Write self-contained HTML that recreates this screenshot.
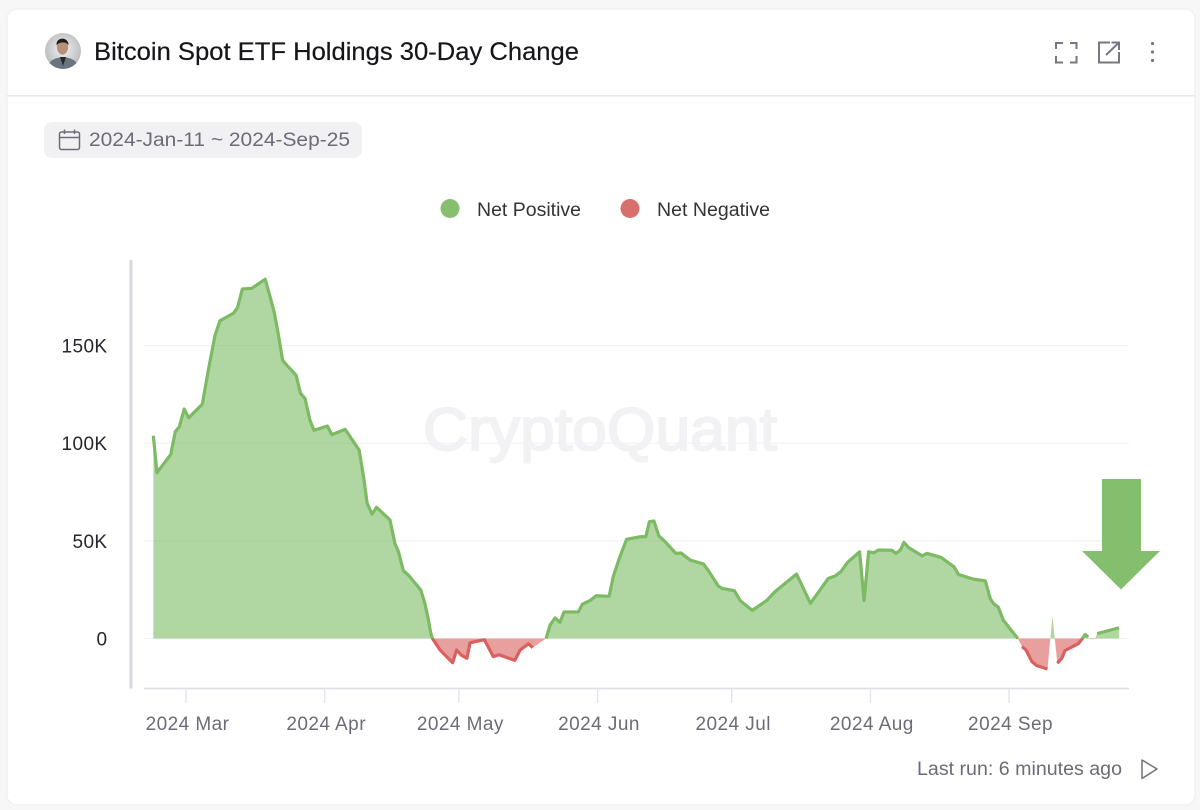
<!DOCTYPE html>
<html lang="en">
<head>
<meta charset="utf-8">
<title>Bitcoin Spot ETF Holdings 30-Day Change</title>
<style>
html,body{margin:0;padding:0;width:1200px;height:810px;overflow:hidden;background:#f7f7f8}
svg{display:block}
text{font-family:"Liberation Sans",sans-serif}
</style>
</head>
<body>
<svg id="root" width="1200" height="810" viewBox="0 0 1200 810" xmlns="http://www.w3.org/2000/svg">
  <defs>
    <radialGradient id="avatarBg" cx="50%" cy="45%" r="60%">
      <stop offset="0%" stop-color="#f2f2f2"/>
      <stop offset="100%" stop-color="#b4b6b8"/>
    </radialGradient>
    <clipPath id="avatarClip"><circle cx="63" cy="51" r="18"/></clipPath>
  </defs>
  <rect x="7" y="9" width="1188" height="796" rx="10" fill="#ffffff" stroke="#ededf0" stroke-width="1"/>
  <rect x="7" y="95" width="1188" height="1.6" fill="#e8e8ec"/>

  <g clip-path="url(#avatarClip)">
    <rect x="45" y="33" width="36" height="36" fill="url(#avatarBg)"/>
    <path d="M47 70 C48 60 55 58 63 57 C71 58 78 60 79 70 Z" fill="#69747c"/>
    <path d="M60 57 L63 66 L66 57 Z" fill="#25282c"/>
    <ellipse cx="62.5" cy="47" rx="5.6" ry="7.6" fill="#b98f78"/>
    <path d="M56.5 45 C56 37 68 36 68.6 45 C66 41.5 60 41.5 56.5 45 Z" fill="#1e1c1c"/>
  </g>
  <text x="94" y="60" font-size="25" fill="#15151a" stroke="#15151a" stroke-width="0.2" textLength="485" lengthAdjust="spacingAndGlyphs">Bitcoin Spot ETF Holdings 30-Day Change</text>

  <g fill="none" stroke="#77777f" stroke-width="2">
    <path d="M1056 49 V43 H1063 M1070 43 H1076.5 V49 M1076.5 56 V62.5 H1070 M1063 62.5 H1056 V56"/>
  </g>
  <g fill="none" stroke="#77777f" stroke-width="2">
    <path d="M1110 42.5 H1099 V62.5 H1119 V52"/>
    <path d="M1106 55 L1119 42.5 M1111.5 42.5 H1119 V50"/>
  </g>
  <g fill="#77777f">
    <circle cx="1152.5" cy="43.5" r="1.6"/>
    <circle cx="1152.5" cy="52" r="1.6"/>
    <circle cx="1152.5" cy="60.5" r="1.6"/>
  </g>

  <g>
    <rect x="44" y="122" width="318" height="36" rx="8" fill="#f1f1f4"/>
    <g fill="none" stroke="#6c6c78" stroke-width="1.5">
      <rect x="59.5" y="132" width="20" height="17.5" rx="2"/>
      <path d="M59.5 137.5 H79.5 M64.5 129.5 V134 M74.5 129.5 V134"/>
    </g>
    <text x="89" y="146" font-size="19" fill="#6c6c78" textLength="261" lengthAdjust="spacingAndGlyphs">2024-Jan-11 ~ 2024-Sep-25</text>
  </g>

  <g>
    <g>
      <circle cx="450" cy="208.5" r="9.5" fill="#86bf6e"/>
      <text x="477" y="216" font-size="19" fill="#33333a" textLength="104" lengthAdjust="spacingAndGlyphs">Net Positive</text>
    </g>
    <g>
      <circle cx="630" cy="208.5" r="9.5" fill="#d86f6c"/>
      <text x="657" y="216" font-size="19" fill="#33333a" textLength="113" lengthAdjust="spacingAndGlyphs">Net Negative</text>
    </g>
  </g>

  <text x="423" y="450" font-size="60" fill="#f2f2f5" stroke="#f2f2f5" stroke-width="2" textLength="354" lengthAdjust="spacingAndGlyphs">CryptoQuant</text>

  <g id="plot"></g>

  <polygon points="1102,479 1141,479 1141,551 1160,551 1121,589.5 1082,551 1102,551" fill="#84bf6d"/>

  <text x="917" y="775" font-size="19" fill="#6c6c78" textLength="205" lengthAdjust="spacingAndGlyphs">Last run: 6 minutes ago</text>
  <path d="M1142 760 L1157 769 L1142 778.5 Z" fill="none" stroke="#77777f" stroke-width="1.6" stroke-linejoin="round"/>
</svg>

<script>
// Days are counted from 2024-03-01; values are BTC held, 30-day change, in thousands.
const days = [-7.3,-6.5,-3.4,-2.4,-1.5,-0.4,0.6,3.65,5,6.5,7.6,10.6,11.5,12.6,14.7,17.7,18.6,19.7,20.6,21.6,22.5,24.6,25.6,26.6,27.7,28.6,31.6,32.6,35.6,38.7,39.8,40.5,41.6,42.6,45.6,46.7,47.5,48.6,49.7,52.5,53.4,54.2,54.7,55.1,56.8,59.6,60.5,61.6,62.8,63.5,66.7,68.7,70,73.5,74.7,76.6,77.5,80.5,81.4,82.5,83.6,84.5,87.7,88.6,90.5,91.7,94.6,95.5,97,98.5,101.5,102.8,103.6,104.6,105.7,107.1,109.5,110.7,112.7,115.7,116.8,119,119.8,122.6,123.9,126.6,129.8,131.7,136.5,139.6,143.6,145.1,146.4,147.9,150.6,151.6,152.6,153.8,154.8,157.8,158.7,159.7,160.5,161.5,164.6,165.6,168.8,171.7,172.7,176,178.7,179.8,180.5,181.6,182.7,185.5,186,186.9,187.8,189.1,190.2,192.6,193.7,194.8,195.8,196.5,199.5,200.4,201,201.7,202,203.2,203.7,208.6];
const netChangeK = [103.8,84.9,94.3,105.9,108.4,117.5,113,120,137.5,155.4,162.7,166.5,169.4,179,179.3,184,176.7,167.3,156.3,142.6,140,134.9,125.5,123,111.9,106.6,108.8,104.4,107.1,96.5,81.2,69.2,63.7,67.2,60.7,48.7,44.4,34.7,32.5,24.8,18,9.5,3,0,-5.9,-12.4,-5.9,-8.6,-10.1,-2.2,-0.6,-9.3,-8.3,-11.2,-5.9,-2.7,-4.7,0,6.9,10.5,8.3,13.6,13.6,17.5,19.7,21.9,21.6,31.6,41.9,50.8,52.1,52.1,59.8,60.2,52.6,49.6,43.6,43.8,40.2,38.1,34.7,26.9,25.7,24.5,19.4,14.4,19.4,24,33,18,30.8,32,34.2,39,44.4,19.4,44.4,43.9,45.3,45.2,43.6,45.3,49.2,46.6,42.3,43.6,41.5,36.7,32.8,30.4,29.5,20.5,18,16,9.5,1.3,0,-4.2,-5.9,-11.8,-13.9,-15.6,11.6,-12.7,-10.1,-6.2,-2.6,0,2,0.8,-0.3,-0.3,2.5,5.5];
// Stretches of the series where the reference shows the fill without an outline.
const unstrokedDayRanges = [[77.5,80.5],[186,186.9],[192.6,194.8],[201.7,203.7]];
const yTickValues = [0,50,100,150];
const yTickLabels = ["0","50K","100K","150K"];
const xTickDays = [0,31,61,92,122,153,184];
const xTickLabels = ["2024 Mar","2024 Apr","2024 May","2024 Jun","2024 Jul","2024 Aug","2024 Sep"];

const NS = 'http://www.w3.org/2000/svg';
const plot = document.getElementById('plot');
const plotLeft = 131, plotRight = 1129, plotTop = 260, plotBottom = 688.5, gridLeft = 144;
function xScale(day){ return 186 + day * 4.473; }
function yScale(k){ return 638.5 - k * 1.953; }
function make(tag, attrs){
  const el = document.createElementNS(NS, tag);
  for (const k in attrs) el.setAttribute(k, attrs[k]);
  return el;
}

// Gridlines and y axis labels
yTickValues.forEach(function(v, i){
  const g = make('line', {x1:gridLeft, x2:plotRight, y1:yScale(v), y2:yScale(v), stroke:'#f2f2f4', 'stroke-width':1.2});
  
  
  plot.appendChild(g);
  const t = make('text', {x:107.5, y:yScale(v)+7, 'text-anchor':'end', 'font-size':19, 'letter-spacing':0.4, fill:'#26262c'});
  t.textContent = yTickLabels[i];
  
  
  plot.appendChild(t);
});

// Clip regions above and below the zero line
const defs = document.querySelector('defs');
const clipPos = make('clipPath', {id:'clipPositive'});
clipPos.appendChild(make('rect', {x:0, y:0, width:1200, height:yScale(0)}));
defs.appendChild(clipPos);
const clipNeg = make('clipPath', {id:'clipNegative'});
clipNeg.appendChild(make('rect', {x:0, y:yScale(0), width:1200, height:810-yScale(0)}));
defs.appendChild(clipNeg);

// Area fill
const pts = days.map(function(d, i){ return xScale(d).toFixed(2) + ' ' + yScale(netChangeK[i]).toFixed(2); });
const areaD = 'M' + xScale(days[0]).toFixed(2) + ' ' + yScale(0) + ' L' + pts.join(' L') + ' L' + xScale(days[days.length-1]).toFixed(2) + ' ' + yScale(0) + ' Z';
const areaPos = make('path', {d:areaD, fill:'#7cba64', 'fill-opacity':0.6, 'clip-path':'url(#clipPositive)'});


plot.appendChild(areaPos);
const areaNeg = make('path', {d:areaD, fill:'#d9605e', 'fill-opacity':0.6, 'clip-path':'url(#clipNegative)'});


plot.appendChild(areaNeg);

// Outline, broken where the reference has no stroke
function isStroked(i){
  const mid = (days[i] + days[i+1]) / 2;
  return !unstrokedDayRanges.some(function(r){ return mid > r[0] && mid < r[1]; });
}
let lineD = '', pen = false;
for (let i = 0; i < days.length - 1; i++){
  if (isStroked(i)){
    if (!pen) lineD += 'M' + pts[i];
    lineD += ' L' + pts[i+1];
    pen = true;
  } else {
    pen = false;
  }
}
const linePos = make('path', {d:lineD, fill:'none', stroke:'#7cba64', 'stroke-width':3.2, 'stroke-linejoin':'round', 'clip-path':'url(#clipPositive)'});


plot.appendChild(linePos);
const lineNeg = make('path', {d:lineD, fill:'none', stroke:'#d9605e', 'stroke-width':3.2, 'stroke-linejoin':'round', 'clip-path':'url(#clipNegative)'});


plot.appendChild(lineNeg);

// Axes
const yAxis = make('line', {x1:plotLeft, x2:plotLeft, y1:plotTop, y2:plotBottom, stroke:'#d8d8e0', 'stroke-width':3});


plot.appendChild(yAxis);
const xAxis = make('line', {x1:gridLeft, x2:plotRight, y1:plotBottom, y2:plotBottom, stroke:'#dedee6', 'stroke-width':1.6});


plot.appendChild(xAxis);
xTickDays.forEach(function(d, i){
  const tick = make('line', {x1:xScale(d), x2:xScale(d), y1:plotBottom, y2:703, stroke:'#e4e4ea', 'stroke-width':1.4});
  
  
  plot.appendChild(tick);
  const t = make('text', {x:xScale(d)+1.5, y:730, 'text-anchor':'middle', 'font-size':19, 'letter-spacing':0.45, fill:'#6c6c78'});
  t.textContent = xTickLabels[i];
  
  
  plot.appendChild(t);
});
</script>
</body>
</html>
